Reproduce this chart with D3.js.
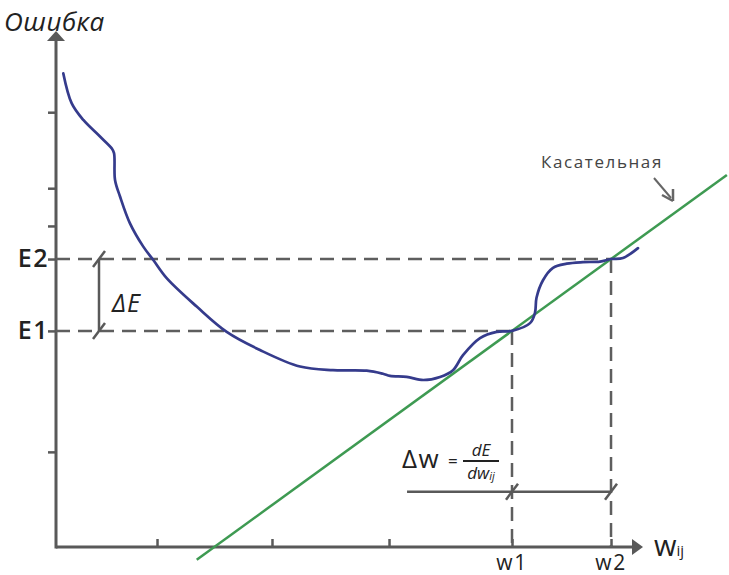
<!DOCTYPE html>
<html><head><meta charset="utf-8">
<script src="https://cdn.jsdelivr.net/npm/d3@7"></script>
<style>body{margin:0;background:#fff} svg{display:block}</style>
</head><body>
<script>
// ---- data (arbitrary units) ----
const curveX = [0.124,0.267,0.464,0.747,0.946,0.985,1.002,1.087,1.256,1.482,1.652,1.879,2.389,2.898,3.463,4.143,4.703,5.275,5.552,5.671,5.954,6.236,6.520,6.740,6.910,7.199,7.482,7.742,8.048,8.132,8.158,8.268,8.438,8.671,8.947,9.236,9.423,9.626,9.881];
const curveY = [9.16,8.58,8.26,7.94,7.71,7.62,7.10,6.78,6.26,5.81,5.55,5.20,4.65,4.16,3.81,3.49,3.42,3.41,3.35,3.31,3.29,3.23,3.29,3.42,3.71,4.04,4.16,4.18,4.33,4.53,4.82,5.16,5.40,5.48,5.51,5.52,5.57,5.59,5.78];
const yTicks = [8.41, 6.94, 6.21, 5.57, 4.18, 1.84];
const xTicks = [1.715, 3.667, 5.654, 7.742, 9.423];
const eLevels = [4.18, 5.57];
const eLabels = ["E1", "E2"];
const wLevels = [7.742, 9.423];
const wLabels = ["w1", "w2"];
const tangentX = [2.389, 11.39];
const tangentY = [-0.247, 7.197];
const deltaEX = 0.73;
const deltaWY = 1.07;
const deltaWStart = 5.96;

const W = 729, H = 575;
const svg = d3.select("body").append("svg").attr("width", W).attr("height", H);
const x = d3.scaleLinear().domain([0, 10]).range([56, 645]);
const y = d3.scaleLinear().domain([0, 10]).range([547, 30]);

const axisColor = "#595959";
const dashColor = "#5e5e5e";
const font = "'Open Sans', 'DejaVu Sans', sans-serif";

// axes
const gx = svg.append("g").attr("transform", `translate(0,${y(0)})`)
  .call(d3.axisBottom(x).tickValues(xTicks).tickSize(-8).tickSizeOuter(0).tickFormat(""));
const gy = svg.append("g").attr("transform", `translate(${x(0)},0)`)
  .call(d3.axisLeft(y).tickValues(yTicks).tickSize(8).tickSizeOuter(0).tickFormat(""));
[gx, gy].forEach(g => {
  g.select(".domain").remove();
  g.selectAll(".tick line").attr("stroke", axisColor).attr("stroke-width", 2.5);
});
svg.append("line").attr("x1", x(0)).attr("x2", 636).attr("y1", y(0)).attr("y2", y(0))
  .attr("stroke", axisColor).attr("stroke-width", 3);
svg.append("line").attr("x1", x(0)).attr("x2", x(0)).attr("y1", y(0) + 1.5).attr("y2", 38)
  .attr("stroke", axisColor).attr("stroke-width", 3);
svg.append("path").attr("d", `M643,${y(0)} L632,${y(0)-8} L632,${y(0)+8} Z`).attr("fill", axisColor);
svg.append("path").attr("d", `M${x(0)},31 L${x(0)-9},41 L${x(0)+9},41 Z`).attr("fill", axisColor);

// dashed guides
const dash = "14,8";
eLevels.forEach((e, i) => {
  svg.append("line").attr("x1", x(0)).attr("x2", x(wLevels[i])).attr("y1", y(e)).attr("y2", y(e))
    .attr("stroke", dashColor).attr("stroke-width", 2.5).attr("stroke-dasharray", dash);
  svg.append("line").attr("x1", x(wLevels[i])).attr("x2", x(wLevels[i])).attr("y1", y(e)).attr("y2", y(0))
    .attr("stroke", dashColor).attr("stroke-width", 2.5).attr("stroke-dasharray", dash);
  svg.append("text").attr("x", 49).attr("y", y(e) + 8).attr("text-anchor", "end")
    .attr("font-family", font).attr("font-size", 25).attr("font-weight", 600).attr("letter-spacing", 1.5)
    .attr("fill", "#222").text(eLabels[i]);
  svg.append("text").attr("x", x(wLevels[i])).attr("y", 570).attr("text-anchor", "middle")
    .attr("font-family", font).attr("font-size", 21).attr("font-weight", 500).attr("letter-spacing", 1.5)
    .attr("fill", "#222").text(wLabels[i]);
});

// tangent
svg.append("line").attr("x1", x(tangentX[0])).attr("y1", y(tangentY[0]))
  .attr("x2", x(tangentX[1])).attr("y2", y(tangentY[1]))
  .attr("stroke", "#3e9a52").attr("stroke-width", 2.5);

// error curve
const pts = curveX.map((v, i) => [v, curveY[i]]);
svg.append("path").datum(pts)
  .attr("d", d3.line().x(d => x(d[0])).y(d => y(d[1])).curve(d3.curveCatmullRom))
  .attr("fill", "none").attr("stroke", "#353b8c").attr("stroke-width", 2.7)
  .attr("stroke-linecap", "round");

// slash helper
function slash(cx, cy) {
  svg.append("line").attr("x1", cx - 6).attr("y1", cy + 8).attr("x2", cx + 6).attr("y2", cy - 8)
    .attr("stroke", axisColor).attr("stroke-width", 2.5);
}

// delta E
svg.append("line").attr("x1", x(deltaEX)).attr("x2", x(deltaEX)).attr("y1", y(eLevels[1])).attr("y2", y(eLevels[0]))
  .attr("stroke", axisColor).attr("stroke-width", 2.5);
slash(x(deltaEX), y(eLevels[1]));
slash(x(deltaEX), y(eLevels[0]));
svg.append("text").attr("x", 112).attr("y", 312).attr("font-family", font).attr("font-size", 25)
  .attr("font-style", "italic").attr("letter-spacing", 1).attr("fill", "#222").text("ΔE");

// delta w
svg.append("line").attr("x1", x(deltaWStart)).attr("x2", x(wLevels[1])).attr("y1", y(deltaWY)).attr("y2", y(deltaWY))
  .attr("stroke", axisColor).attr("stroke-width", 2.5);
slash(x(wLevels[0]), y(deltaWY));
slash(x(wLevels[1]), y(deltaWY));
svg.append("text").attr("x", 402).attr("y", 468).attr("font-family", font).attr("font-size", 26)
  .attr("letter-spacing", 1.5).attr("fill", "#222").text("Δw");
svg.append("text").attr("x", 448).attr("y", 467).attr("font-family", font).attr("font-size", 17)
  .attr("fill", "#222").text("=");
svg.append("text").attr("x", 481).attr("y", 456).attr("text-anchor", "middle").attr("font-family", font)
  .attr("font-size", 17).attr("font-style", "italic").attr("fill", "#222").text("dE");
svg.append("line").attr("x1", 463).attr("x2", 499).attr("y1", 461).attr("y2", 461)
  .attr("stroke", "#222").attr("stroke-width", 1.8);
const den = svg.append("text").attr("x", 481).attr("y", 479).attr("text-anchor", "middle").attr("font-family", font)
  .attr("font-size", 17).attr("font-style", "italic").attr("fill", "#222");
den.append("tspan").text("dw");
den.append("tspan").attr("font-size", 11).attr("dy", 1).text("ij");

// axis titles
svg.append("text").attr("x", 4).attr("y", 31).attr("font-family", font).attr("font-size", 26)
  .attr("font-style", "italic").attr("letter-spacing", 0.5).attr("fill", "#222").text("Ошибка");
const wt = svg.append("text").attr("x", 654).attr("y", 556).attr("font-family", font).attr("font-size", 29)
  .attr("fill", "#222");
wt.append("tspan").text("w");
wt.append("tspan").attr("font-size", 15).attr("dy", 0).text("ij");

// tangent label
svg.append("text").attr("x", 541).attr("y", 168).attr("font-family", font).attr("font-size", 17)
  .attr("letter-spacing", 1.6).attr("fill", "#444").text("Касательная");
svg.append("line").attr("x1", 654).attr("y1", 178).attr("x2", 671).attr("y2", 198)
  .attr("stroke", "#666").attr("stroke-width", 2);
svg.append("path").attr("d", "M673,201 L662,195 M673,201 L673,189")
  .attr("stroke", "#666").attr("stroke-width", 2.5).attr("fill", "none");
</script>
</body></html>
